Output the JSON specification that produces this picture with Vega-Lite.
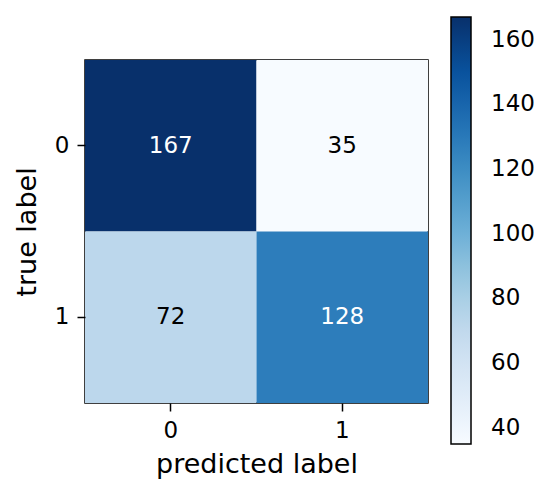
{
  "$schema": "https://vega.github.io/schema/vega-lite/v6.json",
  "autosize": {"type": "none"},
  "padding": {"left": 85, "top": 60, "right": 122, "bottom": 95},
  "width": 343,
  "height": 343,
  "background": "white",
  "config": {
    "font": "DejaVu Sans",
    "view": {"stroke": "black", "strokeWidth": 1.5},
    "axis": {
      "domain": false,
      "grid": false,
      "ticks": true,
      "tickColor": "black",
      "tickWidth": 1.5,
      "tickSize": 8,
      "labelColor": "black",
      "labelFontSize": 23,
      "labelFont": "DejaVu Sans",
      "titleColor": "black",
      "titleFontSize": 27,
      "titleFontWeight": "normal",
      "titleFont": "DejaVu Sans"
    }
  },
  "data": {
    "values": [
      {"true": 0, "predicted": 0, "count": 167},
      {"true": 0, "predicted": 1, "count": 35},
      {"true": 1, "predicted": 0, "count": 72},
      {"true": 1, "predicted": 1, "count": 128}
    ]
  },
  "encoding": {
    "x": {
      "field": "predicted",
      "type": "ordinal",
      "scale": {"domain": [0, 1], "paddingInner": 0, "paddingOuter": 0},
      "axis": {"title": "predicted label", "labelAngle": 0, "labelPadding": 8, "titlePadding": 9}
    },
    "y": {
      "field": "true",
      "type": "ordinal",
      "scale": {"domain": [0, 1], "paddingInner": 0, "paddingOuter": 0},
      "axis": {"title": "true label", "labelPadding": 8, "titlePadding": 13}
    }
  },
  "layer": [
    {
      "mark": {"type": "rect"},
      "encoding": {
        "color": {
          "field": "count",
          "type": "quantitative",
          "scale": {
            "type": "linear",
            "domain": [35, 51.5, 68, 84.5, 101, 117.5, 134, 150.5, 167],
            "range": ["#f7fbff", "#deebf7", "#c6dbef", "#9ecae1", "#6baed6", "#4292c6", "#2171b5", "#08519c", "#08306b"],
            "interpolate": "rgb"
          },
          "legend": {
            "orient": "none",
            "legendX": 366,
            "legendY": -43,
            "direction": "vertical",
            "title": null,
            "gradientLength": 427,
            "gradientThickness": 20,
            "gradientStrokeColor": "black",
            "gradientStrokeWidth": 1.5,
            "values": [40, 60, 80, 100, 120, 140, 160],
            "labelFontSize": 23,
            "labelFont": "DejaVu Sans",
            "labelColor": "black",
            "labelOffset": 20,
            "labelOverlap": false,
            "padding": 0
          }
        }
      }
    },
    {
      "mark": {"type": "text", "fontSize": 23, "font": "DejaVu Sans", "baseline": "middle", "align": "center"},
      "encoding": {
        "text": {"field": "count", "type": "quantitative"},
        "color": {
          "condition": {"test": "datum.count > 101", "value": "white"},
          "value": "black"
        }
      }
    }
  ]
}
